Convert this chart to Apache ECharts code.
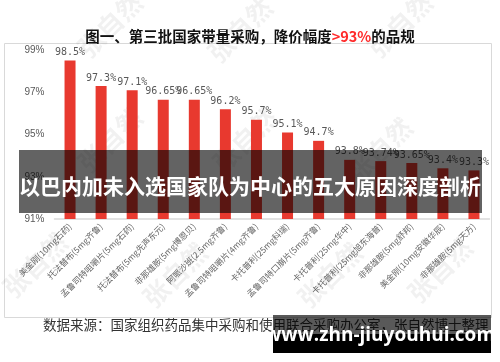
<!DOCTYPE html>
<html><head><meta charset="utf-8">
<script src="https://cdn.jsdelivr.net/npm/echarts@6/dist/echarts.min.js"></script>
<style>html,body{margin:0;padding:0;background:#fff}#c{width:500px;height:362px}</style>
</head><body><div id="c"></div>
<script>
const categories = ['美金刚(10mg石药)','托法替布(5mg齐鲁)','孟鲁司特咀嚼片(5mg石药)','托法替布(5mg先声东元)','非那雄胺(5mg博恩贝)','阿哌沙班(2.5mg齐鲁)','孟鲁司特咀嚼片(4mg齐鲁)','卡托普利(25mg科瑞)','孟鲁司特口崩片(5mg齐鲁)','卡托普利(25mg华中)','卡托普利(25mg旭东海普)','非那雄胺(5mg舒邦)','美金刚(10mg安徽华辰)','非那雄胺(5mg天方)'];
const values = [98.5, 97.3, 97.1, 96.65, 96.65, 96.2, 95.7, 95.1, 94.7, 93.8, 93.74, 93.65, 93.4, 93.3];
const yTicks = [91, 93, 95, 97, 99];
const titleMain = '图一、第三批国家带量采购，降价幅度';
const titleRed = '>93%';
const titleEnd = '的品规';
const sourceText = '数据来源：国家组织药品集中采购和使用联合采购办公室，张自然博士整理';
const bannerText = '以巴内加未入选国家队为中心的五大原因深度剖析';
const siteText = 'www.zhn-jiuyouhui.com';

const chart = echarts.init(document.getElementById('c'));
const wm = [[110,25],[240,30],[400,25],[110,140],[245,140],[380,150],[35,265],[175,275],[330,275],[440,270]];
const g = [
  {type:'rect', shape:{x:4.5,y:43.5,width:487,height:274}, style:{fill:'none',stroke:'#d9d9d9',lineWidth:1}, z:1},
];
wm.forEach(p=>g.push({type:'text', x:p[0], y:p[1], rotation:Math.PI/4, style:{text:'张自然', fill:'rgba(0,0,0,0.055)', font:'bold 26px "Noto Sans CJK SC"', textAlign:'center', textVerticalAlign:'middle'}, z:2}));
g.push(
  {type:'text', left:43, top:318, style:{text:sourceText, fill:'#333', font:'13.5px "Noto Sans CJK SC"'}, z:5},
  {type:'rect', shape:{x:19,y:150,width:463,height:63}, style:{fill:'rgba(0,0,0,0.61)'}, z:50},
  {type:'text', x:250, y:186, style:{text:bannerText, fill:'#fff', font:'bold 21px "Noto Sans CJK SC"', textAlign:'center', textVerticalAlign:'middle'}, z:51},
  {type:'rect', shape:{x:273,y:315,width:218,height:38}, style:{fill:'rgba(0,0,0,0.65)'}, z:50},
  {type:'rect', shape:{x:273,y:334,width:218,height:19}, style:{fill:'#000'}, z:50},
  {type:'text', x:380, y:336, style:{text:siteText, fill:'#fff', font:'bold 19px "Open Sans"', textAlign:'center', textVerticalAlign:'middle'}, z:51}
);
chart.setOption({
  animation:false,
  title:{text:'{a|'+titleMain+'}{b|'+titleRed+'}{a|'+titleEnd+'}', left:'center', top:24,
    textStyle:{rich:{a:{fontSize:14.5,fontWeight:'bold',color:'#111',fontFamily:'Noto Sans CJK SC'},b:{fontSize:14.5,fontWeight:'bold',color:'#ff2a2a',fontFamily:'Noto Sans CJK SC'}}}},
  grid:{left:54.5,right:10.5,top:50,bottom:143},
  xAxis:{type:'category', data:categories,
    axisLine:{lineStyle:{color:'#d9d9d9',width:1.5}}, axisTick:{show:false},
    axisLabel:{rotate:45, interval:0, fontSize:8.5, color:'#666', margin:6, fontFamily:'Noto Sans CJK SC'}},
  yAxis:{type:'value', min:yTicks[0], max:yTicks[yTicks.length-1], interval:2,
    axisLabel:{formatter:'{value}%', color:'#595959', fontSize:10, margin:10},
    axisLine:{show:false}, axisTick:{show:false}, splitLine:{show:false}},
  graphic:g,
  series:[{type:'bar', data:values, barWidth:11, itemStyle:{color:'#e8392f'},
    label:{show:true, position:'top', distance:3, formatter:p=>p.value+'%', color:'#595959', fontSize:10, fontFamily:'DejaVu Sans Mono'}}]
});
</script></body></html>
